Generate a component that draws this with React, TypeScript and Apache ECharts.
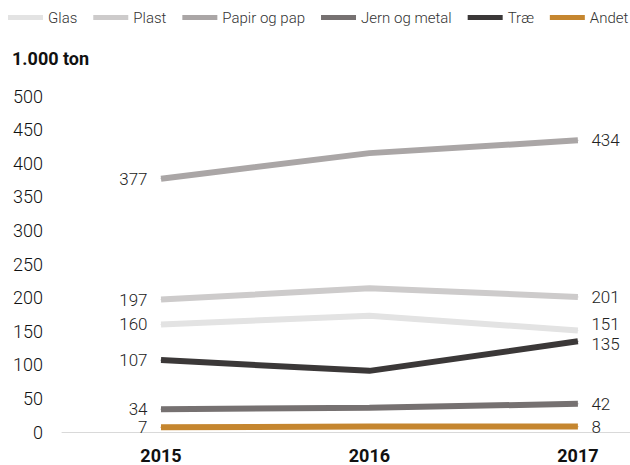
import React, { useEffect, useRef } from "react";
import * as echarts from "echarts";

const years = [2015, 2016, 2017];
const seriesNames = ["Glas", "Plast", "Papir og pap", "Jern og metal", "Træ", "Andet"];
const glas = [160, 173, 151];
const plast = [197, 214, 201];
const papir = [377, 415, 434];
const jern = [34, 36, 42];
const trae = [107, 91, 135];
const andet = [7, 8, 8];
const colors = ["#e3e3e3", "#cdcbcb", "#aaa6a6", "#767171", "#3b3838", "#c5862f"];
const yTicks = { min: 0, max: 500, interval: 50 };

const FONT = "Roboto";

export default function App() {
  const ref = useRef<HTMLDivElement>(null);
  useEffect(() => {
    if (!ref.current) return;
    const chart = echarts.init(ref.current, null, { renderer: "svg" });
    const all = [glas, plast, papir, jern, trae, andet];
    const lastOffsets: Record<string, number[]> = { Glas: [0, -7], "Træ": [0, 3] };
    const series = all.map((vals, i) => ({
      name: seriesNames[i],
      type: "line",
      data: vals.map((v, j) => {
        const item: any = { value: [years[j], v] };
        if (j === 0) {
          item.label = { show: true, position: "left", distance: 13 };
        } else if (j === vals.length - 1) {
          item.label = {
            show: true,
            position: "right",
            distance: 13,
            offset: lastOffsets[seriesNames[i]] || [0, 0],
          };
        } else {
          item.label = { show: false };
        }
        return item;
      }),
      symbol: "circle",
      symbolSize: 1,
      showSymbol: true,
      itemStyle: { color: colors[i] },
      color: colors[i],
      lineStyle: { width: 6, color: colors[i], cap: "butt" },
      label: {
        fontFamily: FONT,
        fontWeight: 300,
        fontSize: 17,
        lineHeight: 18,
        color: "#222",
        formatter: (p: any) => String(p.value[1]),
      },
      emphasis: { disabled: true },
    }));
    chart.setOption({
      animation: false,
      backgroundColor: "#fff",
      title: {
        text: "1.000 ton",
        left: 12,
        top: 49,
        padding: 0,
        textStyle: { fontFamily: FONT, fontSize: 18, fontWeight: "bold", color: "#111" },
      },
      legend: {
        left: 8,
        top: 10,
        padding: 0,
        itemGap: 16,
        itemWidth: 35,
        itemHeight: 5,
        icon: "rect",
        data: seriesNames,
        textStyle: { fontFamily: FONT, fontWeight: 300, fontSize: 15, color: "#333" },
      },
      grid: { left: 62, right: 0, top: 96, bottom: 33, containLabel: false },
      xAxis: {
        type: "value",
        min: 2014.525,
        max: 2017.25,
        axisLine: { show: true, lineStyle: { color: "#d9d9d9", width: 1 } },
        axisTick: { show: false },
        splitLine: { show: false },
        axisLabel: {
          customValues: years,
          formatter: (v: number) => String(v),
          fontFamily: FONT,
          fontSize: 18,
          fontWeight: "bold",
          color: "#111",
          margin: 14,
        },
      },
      yAxis: {
        type: "value",
        min: yTicks.min,
        max: yTicks.max,
        interval: yTicks.interval,
        axisLine: { show: false },
        axisTick: { show: false },
        splitLine: { show: false },
        axisLabel: {
          fontFamily: FONT,
          fontWeight: 300,
          fontSize: 18,
          color: "#111",
          margin: 19,
        },
      },
      series,
    });
    return () => chart.dispose();
  }, []);
  return <div ref={ref} style={{ width: 630, height: 465, position: "absolute", left: 0, top: 0 }} />;
}
